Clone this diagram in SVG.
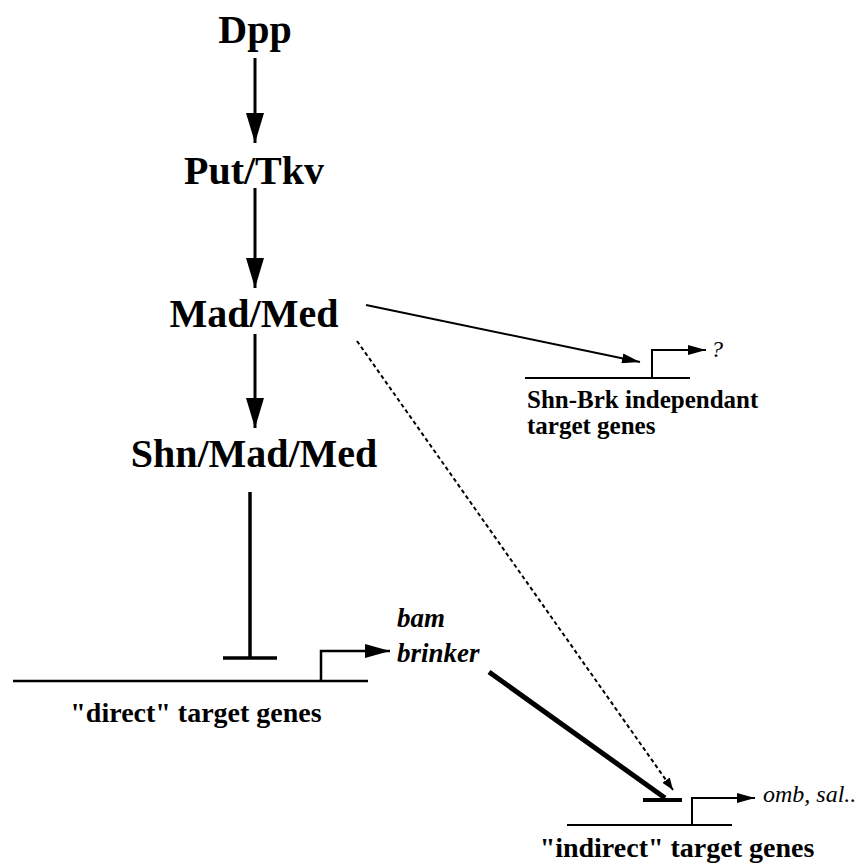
<svg xmlns="http://www.w3.org/2000/svg" width="860" height="864" viewBox="0 0 860 864">
<defs>
<style>
.n{font-family:"Liberation Serif","Times New Roman",serif;font-weight:bold;font-size:40px;text-anchor:middle;fill:#000}
.lab{font-family:"Liberation Serif","Times New Roman",serif;font-weight:bold;fill:#000}
.it{font-family:"Liberation Serif","Times New Roman",serif;font-style:italic;fill:#000}
.ln{stroke:#000;fill:none}
</style>
<marker id="big" viewBox="0 0 30 18" markerWidth="30" markerHeight="18" refX="30" refY="9" orient="auto" markerUnits="userSpaceOnUse"><path d="M0,0 L30,9 L0,18 z" fill="#000"/></marker>
<marker id="prom" viewBox="0 0 25 14" markerWidth="25" markerHeight="14" refX="25" refY="7" orient="auto" markerUnits="userSpaceOnUse"><path d="M0,0 L25,7 L0,14 z" fill="#000"/></marker>
<marker id="sm" viewBox="0 0 18 10" markerWidth="18" markerHeight="10" refX="18" refY="5" orient="auto" markerUnits="userSpaceOnUse"><path d="M0,0 L18,5 L0,10 z" fill="#000"/></marker>
<marker id="ds" viewBox="0 0 12 9" markerWidth="12" markerHeight="9" refX="12" refY="4.5" orient="auto" markerUnits="userSpaceOnUse"><path d="M0,0 L12,4.5 L0,9 z" fill="#000"/></marker>
</defs>
<rect width="860" height="864" fill="#fff"/>
<g id="dpp"><text class="n" x="255" y="43">Dpp</text></g>
<g id="puttkv"><text class="n" x="254" y="184">Put/Tkv</text></g>
<g id="madmed"><text class="n" x="254" y="327">Mad/Med</text></g>
<g id="shnmadmed"><text class="n" x="254" y="467">Shn/Mad/Med</text></g>
<g id="direct">
<line class="ln" x1="13" y1="681" x2="368" y2="681" stroke-width="2.5"/>
<path class="ln" d="M321,681 V651 H390" stroke-width="2.5" marker-end="url(#prom)"/>
<text class="lab" x="196" y="722" font-size="28" text-anchor="middle">"direct" target genes</text>
<text class="it" x="397" y="627" font-size="27" font-weight="bold">bam</text>
<text class="it" x="397" y="662" font-size="27" font-weight="bold">brinker</text>
</g>
<g id="independent">
<line class="ln" x1="525" y1="378" x2="690" y2="378" stroke-width="2"/>
<path class="ln" d="M652,378 V350 H706" stroke-width="2" marker-end="url(#sm)"/>
<text class="it" x="711" y="357" font-size="24">?</text>
<text class="lab" x="527" y="408" font-size="25">Shn-Brk independant</text>
<text class="lab" x="527" y="434" font-size="25">target genes</text>
</g>
<g id="indirect">
<line class="ln" x1="567" y1="825" x2="732" y2="825" stroke-width="2"/>
<path class="ln" d="M692,825 V798 H755" stroke-width="2" marker-end="url(#sm)"/>
<text class="it" x="763" y="802" font-size="24">omb, sal..</text>
<text class="lab" x="677" y="857" font-size="28" text-anchor="middle">"indirect" target genes</text>
</g>
<g id="connectors">
<line class="ln" x1="255" y1="58" x2="255" y2="143" stroke-width="3" marker-end="url(#big)"/>
<line class="ln" x1="255" y1="188" x2="255" y2="288" stroke-width="3" marker-end="url(#big)"/>
<line class="ln" x1="255" y1="334" x2="255" y2="428" stroke-width="3" marker-end="url(#big)"/>
<line class="ln" x1="250" y1="492" x2="250" y2="658" stroke-width="3.5"/>
<line class="ln" x1="223" y1="658" x2="277" y2="658" stroke-width="3.5"/>
<line class="ln" x1="366" y1="305" x2="640" y2="362" stroke-width="2" marker-end="url(#sm)"/>
<line class="ln" x1="357" y1="341" x2="673" y2="790" stroke-width="2" stroke-dasharray="4,3" marker-end="url(#ds)"/>
<line class="ln" x1="489" y1="672" x2="665" y2="798" stroke-width="5"/>
<line class="ln" x1="643" y1="800" x2="682" y2="800" stroke-width="4"/>
</g>
</svg>
